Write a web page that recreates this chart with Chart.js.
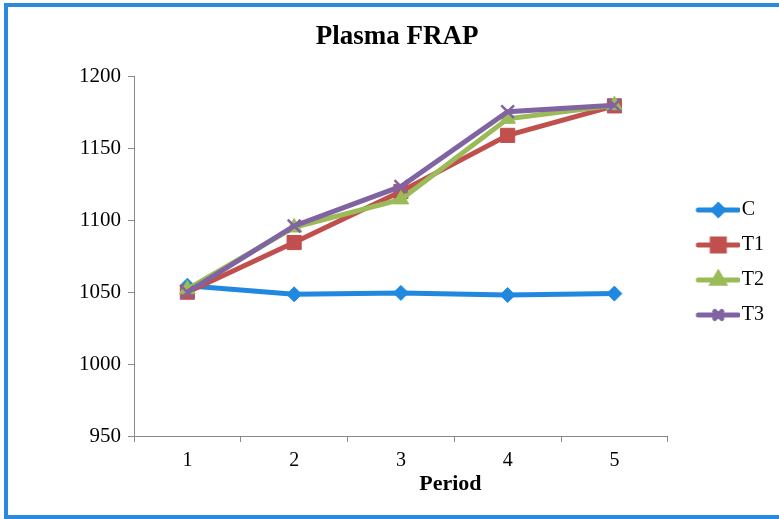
<!DOCTYPE html>
<html>
<head>
<meta charset="utf-8">
<script src="https://cdn.jsdelivr.net/npm/chart.js@4"></script>
<style>
  html, body { margin: 0; padding: 0; background: #fff; overflow: hidden; }
  #wrap { position: relative; width: 779px; height: 519px; }
  #frame { position: absolute; left: 4px; top: 3px; width: 800px; height: 508px;
           border: 4px solid #2A8BDE; pointer-events: none; }
</style>
</head>
<body>
<div id="wrap">
  <canvas id="fmapChart" width="779" height="519"></canvas>
  <div id="frame"></div>
</div>
<script>
// Plasma FRAP by period
const periods = ['1', '2', '3', '4', '5'];
const seriesNames = ['C', 'T1', 'T2', 'T3'];
const valuesC  = [1054.5, 1048.5, 1049.5, 1048, 1049];
const valuesT1 = [1050, 1084.5, 1120, 1159, 1179.5];
const valuesT2 = [1052, 1095, 1114.5, 1170.5, 1180];
const valuesT3 = [1050, 1096, 1123.5, 1175.5, 1180];
const yTicks = [950, 1000, 1050, 1100, 1150, 1200];

const colors = ['#2088DE', '#C0504D', '#9BBB59', '#8064A2'];
const markers = ['rectRot', 'rect', 'triangle', 'crossRot'];
const markerSize = [7.5, 10, 9, 9];
const legendMarkerSize = [5, 8.5, 6.5, 5];
const serif = '"Liberation Serif", "Times New Roman", serif';

// little line + marker pictures for the legend
function legendIcon(i) {
  const c = document.createElement('canvas');
  c.width = 66; c.height = 22;
  const g = c.getContext('2d');
  g.strokeStyle = colors[i];
  g.lineWidth = 5;
  g.lineCap = 'round';
  g.beginPath();
  g.moveTo(24, 11);
  g.lineTo(64, 11);
  g.stroke();
  g.fillStyle = colors[i];
  g.strokeStyle = colors[i];
  Chart.helpers.drawPoint(g, {
    pointStyle: markers[i], radius: legendMarkerSize[i], borderWidth: markers[i] === 'crossRot' ? 2.5 : 1
  }, 44, 11);
  return c;
}
const icons = seriesNames.map((n, i) => legendIcon(i));

const allValues = [valuesC, valuesT1, valuesT2, valuesT3];
const datasets = seriesNames.map((name, i) => ({
  label: name,
  data: allValues[i],
  borderColor: colors[i],
  backgroundColor: colors[i],
  borderWidth: 5,
  pointStyle: markers[i],
  pointRadius: markerSize[i],
  pointBorderWidth: markers[i] === 'crossRot' ? 2.5 : 1,
  pointBackgroundColor: colors[i],
  pointBorderColor: colors[i],
  tension: 0,
  order: seriesNames.length - i
}));

const axisGray = '#898989';

new Chart(document.getElementById('fmapChart'), {
  type: 'line',
  data: { labels: periods, datasets: datasets },
  options: {
    responsive: false,
    animation: false,
    layout: { padding: { left: 0, right: 5, top: 6, bottom: 0 } },
    plugins: {
      title: {
        display: true,
        text: '   Plasma FRAP',
        color: '#000',
        font: { family: serif, size: 27, weight: 'bold' },
        padding: { top: 15, bottom: 23 }
      },
      legend: {
        position: 'right',
        labels: {
          usePointStyle: true,
          pointStyleWidth: 49,
          padding: 15,
          color: '#000',
          font: { family: serif, size: 20 },
          generateLabels: chart => {
            const items = Chart.defaults.plugins.legend.labels.generateLabels(chart);
            items.forEach(it => { it.pointStyle = icons[it.datasetIndex]; });
            return items.sort((a, b) => a.datasetIndex - b.datasetIndex);
          }
        }
      },
      tooltip: { enabled: false }
    },
    scales: {
      x: {
        offset: true,
        afterFit: scale => { scale.height = 83; },
        grid: { offset: true, drawOnChartArea: false, tickLength: 6, color: axisGray },
        border: { color: axisGray, width: 1 },
        ticks: { color: '#000', padding: 7, font: { family: serif, size: 20 } },
        title: {
          display: true,
          text: '\u2002'.repeat(9) + 'Period',
          color: '#000',
          font: { family: serif, size: 22, weight: 'bold' },
          padding: { top: 0, bottom: 21 }
        }
      },
      y: {
        min: yTicks[0],
        max: yTicks[yTicks.length - 1],
        afterFit: scale => { scale.width = 134; },
        afterBuildTicks: scale => { scale.ticks = yTicks.map(v => ({ value: v })); },
        grid: { drawOnChartArea: false, tickLength: 6, color: axisGray },
        border: { color: axisGray, width: 1 },
        ticks: {
          color: '#000', padding: 7, font: { family: serif, size: 21 },
          callback: v => String(v)
        }
      }
    }
  }
});
</script>
</body>
</html>
